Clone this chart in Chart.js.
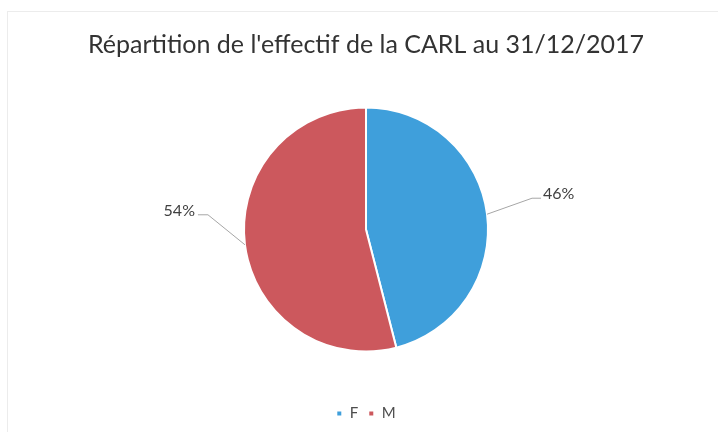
<!DOCTYPE html>
<html>
<head>
<meta charset="utf-8">
<script src="https://cdn.jsdelivr.net/npm/chart.js@4"></script>
<style>
  html, body { margin: 0; padding: 0; background: #fff; }
  #wrap { position: relative; width: 718px; height: 432px; }
  #frame { position: absolute; left: 7px; top: 11px; right: 0; bottom: 0;
           border-top: 1px solid #ececec; border-left: 1px solid #ececec; }
  canvas { position: absolute; left: 0; top: 0; }
</style>
</head>
<body>
<div id="wrap">
  <div id="frame"></div>
  <canvas id="pie" width="718" height="432"></canvas>
</div>
<script>
const title = "Répartition de l'effectif de la CARL au 31/12/2017";
const categories = ['F', 'M'];
const values = [46, 54];
const colors = ['#3f9fdb', '#cc585d'];

// leader line bend, relative to the slice edge (Excel places these by hand)
const leaderBend = [[45, -16], [-37, -30]];

const leaderLabels = {
  id: 'leaderLabels',
  afterDatasetsDraw(chart) {
    const ctx = chart.ctx;
    const meta = chart.getDatasetMeta(0);
    const total = values.reduce((a, b) => a + b, 0);
    ctx.save();
    ctx.font = '16px Lato';
    ctx.fillStyle = '#404040';
    ctx.strokeStyle = '#a6a6a6';
    ctx.lineWidth = 1;
    meta.data.forEach((arc, i) => {
      const { x, y, startAngle, endAngle, outerRadius } = arc.getProps(['x', 'y', 'startAngle', 'endAngle', 'outerRadius']);
      const mid = (startAngle + endAngle) / 2;
      const ex = x + Math.cos(mid) * outerRadius;
      const ey = y + Math.sin(mid) * outerRadius;
      const bx = ex + leaderBend[i][0];
      const by = ey + leaderBend[i][1];
      const right = Math.cos(mid) >= 0;
      const hx = bx + (right ? 9 : -10);
      ctx.beginPath();
      ctx.moveTo(ex, ey);
      ctx.lineTo(bx, by);
      ctx.lineTo(hx, by);
      ctx.stroke();
      const txt = Math.round(values[i] / total * 100) + '%';
      ctx.textBaseline = 'middle';
      ctx.textAlign = right ? 'left' : 'right';
      ctx.fillText(txt, hx + (right ? 2 : -3), by - 4);
    });
    ctx.restore();
  }
};

new Chart(document.getElementById('pie'), {
  type: 'pie',
  data: {
    labels: categories,
    datasets: [{
      data: values,
      backgroundColor: colors,
      borderColor: '#ffffff',
      borderWidth: 2,
      radius: 122
    }]
  },
  options: {
    responsive: false,
    animation: false,
    layout: { padding: { left: 14, right: 0, top: 0, bottom: 1 } },
    plugins: {
      tooltip: { enabled: false },
      title: {
        display: true,
        text: title,
        color: '#333333',
        font: { family: 'Lato', size: 25, weight: 'normal' },
        padding: { top: 30, bottom: 3 }
      },
      legend: {
        position: 'bottom',
        labels: {
          boxWidth: 6,
          boxHeight: 6,
          padding: 10,
          color: '#4d4d4d',
          font: { family: 'Lato', size: 15 }
        }
      }
    }
  },
  plugins: [leaderLabels]
});
</script>
</body>
</html>
